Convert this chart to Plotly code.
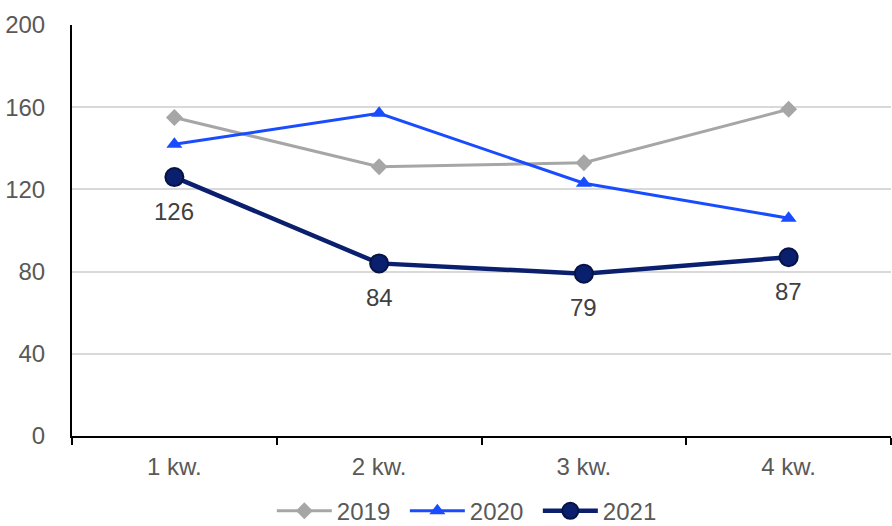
import plotly.graph_objects as go

categories = ["1 kw.", "2 kw.", "3 kw.", "4 kw."]
s2019 = [155, 131, 133, 159]
s2020 = [142, 157, 123, 106]
s2021 = [126, 84, 79, 87]
y_ticks = [0, 40, 80, 120, 160, 200]

FONT = "Liberation Sans, Arial, sans-serif"
TXT = "#595959"
FS = 24

fig = go.Figure()
fig.add_trace(go.Scatter(x=categories, y=s2019, name="2019", mode="lines+markers",
                         line=dict(color="#a6a6a6", width=3),
                         marker=dict(symbol="diamond", size=13, color="#a6a6a6")))
fig.add_trace(go.Scatter(x=categories, y=s2020, name="2020", mode="lines+markers",
                         line=dict(color="#1a4cff", width=3),
                         marker=dict(symbol="triangle-up", size=14, color="#1a4cff")))
fig.add_trace(go.Scatter(x=categories, y=s2021, name="2021", mode="lines+markers",
                         line=dict(color="#0a1f6e", width=4.5),
                         marker=dict(symbol="circle", size=18, color="#0a1f6e",
                                     line=dict(color="#061445", width=2))))

for c, v in zip(categories, s2021):
    fig.add_annotation(x=c, y=v, text=str(v), showarrow=False, yshift=-34,
                       font=dict(family=FONT, size=FS, color="#404040"))

fig.update_layout(
    width=892, height=526, autosize=False,
    margin=dict(l=72, r=1, t=25, b=90, autoexpand=False),
    paper_bgcolor="white", plot_bgcolor="white",
    font=dict(family=FONT, size=FS, color=TXT),
    showlegend=True,
    legend=dict(orientation="h", x=0.244, xanchor="left", y=-0.183, yanchor="middle",
                font=dict(family=FONT, size=FS, color=TXT), itemwidth=55,
                entrywidth=63, entrywidthmode="pixels",
                traceorder="normal"),
)
fig.update_xaxes(type="category", showgrid=False, showline=True, linecolor="black",
                 linewidth=2, ticks="outside", tickson="boundaries", ticklen=7,
                 tickwidth=2, tickcolor="black", tickfont=dict(size=FS, color=TXT),
                 range=[-0.5, 3.5], automargin=False, ticklabelstandoff=8)
fig.update_yaxes(range=[0, 200], tickvals=y_ticks, showgrid=True, gridcolor="#d9d9d9",
                 gridwidth=1.5, showline=True, linecolor="black", linewidth=2,
                 zeroline=False, ticks="", ticklabelstandoff=20, automargin=False,
                 tickfont=dict(size=FS, color=TXT))

post = (
    "document.body.style.margin='0';"
    "document.body.style.overflow='hidden';"
    "var gd=document.getElementById('{plot_id}');"
    "Plotly.relayout(gd,{width:892,height:526});"
)

fig.write_html("out.html", post_script=post, config={"displayModeBar": False})
